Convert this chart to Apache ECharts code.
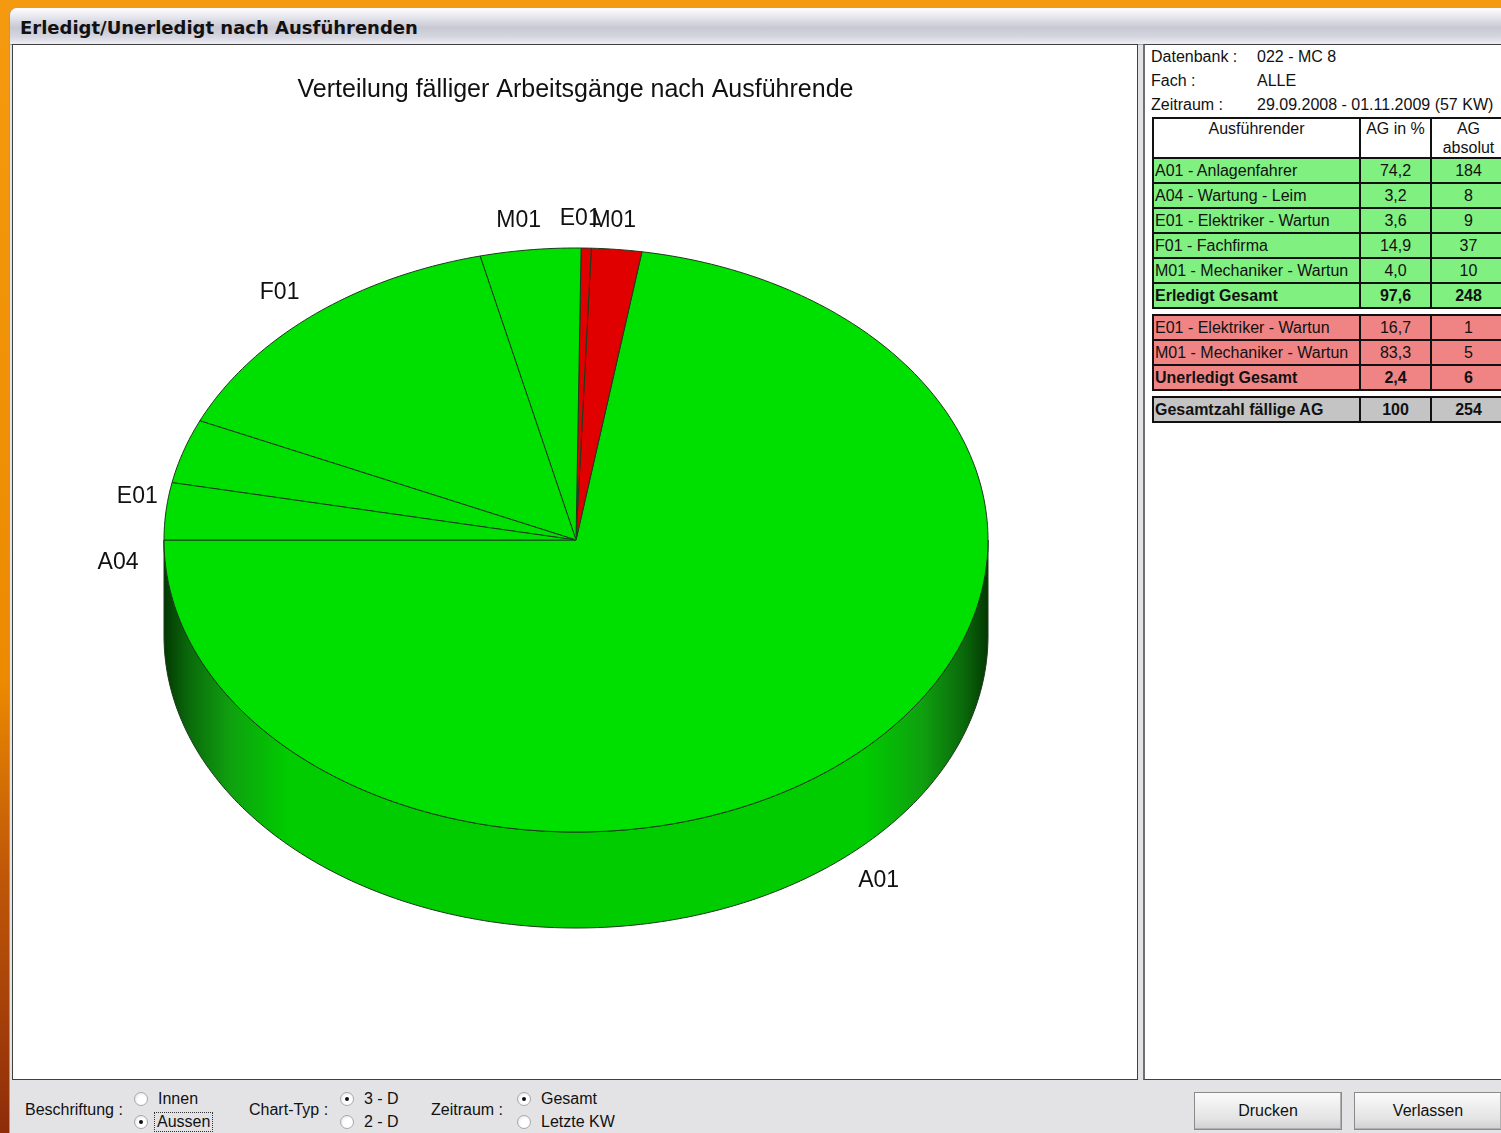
<!DOCTYPE html>
<html>
<head>
<meta charset="utf-8">
<script src="https://cdn.jsdelivr.net/npm/echarts@6/dist/echarts.min.js"></script>
<style>
  body { margin: 0; width: 1501px; height: 1133px; overflow: hidden; position: relative;
    background: linear-gradient(180deg, #f59a10 0%, #ec8a00 60%, #c25a08 76%, #8e2c0a 100%);
    font-family: 'Liberation Sans', Arial, sans-serif; }
  #win { position: absolute; left: 9px; top: 8px; width: 1500px; height: 1130px; background: #e3e3e6;
    border-top-left-radius: 8px; overflow: hidden; border-left: 1px solid #9a9aa8; }
  #titlebar { position: absolute; left: 0; top: 0; width: 100%; height: 36px;
    background: linear-gradient(180deg, #ffffff 0%, #e6e6ee 25%, #c8c8d4 55%, #d6d6e0 80%, #eeeef4 100%);
    border-bottom: 1px solid #a0a0ac; }
  #titlebar span { position: absolute; left: 10px; top: 9px; font: bold 18px 'DejaVu Sans', sans-serif; color: #111; }
  #chartFrame { position: absolute; left: 12px; top: 44px; width: 1124px; height: 1034px;
    border: 1px solid #404040; background: #fff; }
  #chart { position: absolute; left: 14px; top: 46px; width: 1123px; height: 1033px; }
  #side { position: absolute; left: 1143px; top: 44px; width: 400px; height: 1034px; background: #fff;
    border: 1px solid #404040; border-left: 2px solid #707070; overflow: hidden; }
  .info { position: absolute; font-size: 16px; color: #111; white-space: nowrap; }
  table { position: absolute; left: 7px; border-collapse: collapse; table-layout: fixed; font-size: 16px; color: #111; }
  td { border: 2px solid #111; padding: 0 0 0 1px; height: 23px; line-height: 23px; white-space: nowrap; overflow: hidden; }
  td.n { text-align: center; padding: 0; }
  td.h { text-align: center; vertical-align: top; background: #fff; line-height: 19px; padding: 0; }
  tr.g td { background: #80f080; }
  tr.r td { background: #f08484; }
  tr.t td { background: #c4c4c4; }
  tr.b td { font-weight: bold; }
  .lbl { position: absolute; font-size: 16px; color: #111; }
  .rad { position: absolute; width: 12px; height: 12px; border-radius: 50%; border: 1px solid #a8a8a8;
    background: radial-gradient(circle at 60% 60%, #ffffff 40%, #dcdcdc 100%); }
  .rad.on::after { content: ''; position: absolute; left: 4px; top: 4px; width: 4px; height: 4px; border-radius: 50%; background: #111; }
  .btn { position: absolute; top: 1092px; width: 146px; height: 36px; border: 1px solid #8a8a8a;
    background: linear-gradient(180deg, #fafafa, #e4e4e4 70%, #d0d0d0); font-size: 16px; text-align: center; line-height: 36px; color: #111;
    box-shadow: inset -1px -1px 0 #b0b0b0; }
</style>
</head>
<body>
<div id="win"><div id="titlebar"><span>Erledigt/Unerledigt nach Ausführenden</span></div></div>
<div id="chartFrame"></div>
<div id="chart"></div>
<div id="side"></div>

<div class="lbl" style="left:25px;top:1101px">Beschriftung :</div>
<div class="rad" style="left:134px;top:1092px"></div><div class="lbl" style="left:158px;top:1090px">Innen</div>
<div class="rad on" style="left:134px;top:1115px"></div><div class="lbl" style="left:155px;top:1113px;outline:1px dotted #333;padding:0 2px">Aussen</div>
<div class="lbl" style="left:249px;top:1101px">Chart-Typ :</div>
<div class="rad on" style="left:340px;top:1092px"></div><div class="lbl" style="left:364px;top:1090px">3 - D</div>
<div class="rad" style="left:340px;top:1115px"></div><div class="lbl" style="left:364px;top:1113px">2 - D</div>
<div class="lbl" style="left:431px;top:1101px">Zeitraum :</div>
<div class="rad on" style="left:517px;top:1092px"></div><div class="lbl" style="left:541px;top:1090px">Gesamt</div>
<div class="rad" style="left:517px;top:1115px"></div><div class="lbl" style="left:541px;top:1113px">Letzte KW</div>
<div class="btn" style="left:1194px">Drucken</div>
<div class="btn" style="left:1354px">Verlassen</div>

<script>
// pie slices, in drawing order (counter-clockwise from 9 o'clock)
const pieLabels = ['A01', 'M01', 'E01', 'M01', 'F01', 'E01', 'A04'];
const pieValues = [184, 5, 1, 10, 37, 9, 8];
const pieOpen = [false, true, true, false, false, false, false];

// table on the right
const infoKeys = ['Datenbank :', 'Fach :', 'Zeitraum :'];
const infoVals = ['022 - MC  8', 'ALLE', '29.09.2008 - 01.11.2009 (57 KW)'];
const doneNames = ['A01 - Anlagenfahrer', 'A04 - Wartung - Leim', 'E01 - Elektriker - Wartun', 'F01 - Fachfirma', 'M01 - Mechaniker - Wartun'];
const donePct = ['74,2', '3,2', '3,6', '14,9', '4,0'];
const doneAbs = [184, 8, 9, 37, 10];
const openNames = ['E01 - Elektriker - Wartun', 'M01 - Mechaniker - Wartun'];
const openPct = ['16,7', '83,3'];
const openAbs = [1, 5];
const totalNames = ['Erledigt Gesamt', 'Unerledigt Gesamt', 'Gesamtzahl fällige AG'];
const totalPct = ['97,6', '2,4', '100'];
const totalAbs = [248, 6, 254];

// ---- side panel ----
const side = document.getElementById('side');
let html = '';
infoKeys.forEach((k, i) => {
  const y = 3 + i * 24;
  html += `<div class="info" style="left:6px;top:${y}px">${k}</div>`;
  html += `<div class="info" style="left:112px;top:${y}px">${infoVals[i]}</div>`;
});
const cols = '<colgroup><col style="width:207px"><col style="width:71px"><col style="width:75px"></colgroup>';
const rowHtml = (cls, a, b, c) => `<tr class="${cls}"><td>${a}</td><td class="n">${b}</td><td class="n">${c}</td></tr>`;
let t1 = `<table style="top:72px">${cols}<tr><td class="h" style="height:38px">Ausführender</td><td class="h">AG in %</td><td class="h">AG<br>absolut</td></tr>`;
doneNames.forEach((n, i) => { t1 += rowHtml('g', n, donePct[i], doneAbs[i]); });
t1 += rowHtml('g b', totalNames[0], totalPct[0], totalAbs[0]) + '</table>';
let t2 = `<table style="top:269px">${cols}`;
openNames.forEach((n, i) => { t2 += rowHtml('r', n, openPct[i], openAbs[i]); });
t2 += rowHtml('r b', totalNames[1], totalPct[1], totalAbs[1]) + '</table>';
const t3 = `<table style="top:351px">${cols}` + rowHtml('t b', totalNames[2], totalPct[2], totalAbs[2]) + '</table>';
side.innerHTML = html + t1 + t2 + t3;

// ---- 3D pie ----
const total = pieValues.reduce((a, b) => a + b, 0);
const starts = [];
let acc = 0;
pieValues.forEach(v => { starts.push(acc); acc += v; });

const START = 180;
const topColor = { done: '#00e000', open: '#e00000' };
const sideStops = {
  done: ['#033803', '#0a6a0a', '#0fa00f', '#00cc00'],
  open: ['#380303', '#6a0a0a', '#a00f0f', '#cc0000']
};

function renderSlice(params, api) {
  const i = params.dataIndex;
  const cx = 562, cy = 494, rx = 412, ry = 292, depth = 96;
  const a0 = START + starts[i] / total * 360;
  const a1 = START + (starts[i] + pieValues[i]) / total * 360;
  const pt = (deg, r, dy) => {
    const t = deg * Math.PI / 180;
    return [cx + rx * r * Math.cos(t), cy - ry * r * Math.sin(t) + (dy || 0)];
  };
  const arc = (s, e, dy) => {
    const n = Math.max(2, Math.ceil(Math.abs(e - s)));
    const out = [];
    for (let k = 0; k <= n; k++) out.push(pt(s + (e - s) * k / n, 1, dy));
    return out;
  };
  const key = pieOpen[i] ? 'open' : 'done';
  const children = [];

  // front wall: part of the slice between 180 and 360 degrees
  const s = Math.max(a0, 180), e = Math.min(a1, 360);
  if (e > s) {
    const st = sideStops[key];
    const pts = arc(s, e, 0).concat(arc(e, s, depth));
    children.push({
      type: 'polygon',
      shape: { points: pts },
      style: {
        fill: {
          type: 'linear', x: cx - rx, y: 0, x2: cx + rx, y2: 0, global: true,
          colorStops: [
            { offset: 0, color: st[0] }, { offset: 0.03, color: st[1] },
            { offset: 0.08, color: st[2] }, { offset: 0.15, color: st[3] },
            { offset: 0.85, color: st[3] }, { offset: 0.92, color: st[2] },
            { offset: 0.97, color: st[1] }, { offset: 1, color: st[0] }
          ]
        },
        stroke: '#1c3a1c', lineWidth: 1
      }
    });
  }

  // top face
  children.push({
    type: 'polygon',
    shape: { points: [[cx, cy]].concat(arc(a0, a1, 0)) },
    style: { fill: topColor[key], stroke: '#1c3a1c', lineWidth: 1 }
  });

  // label outside the rim
  const mid = (a0 + a1) / 2;
  const sn = Math.sin(mid * Math.PI / 180);
  const lp = pt(mid, 1.1, sn < 0 ? depth : (sn < 0.5 ? depth * 0.57 : 0));
  children.push({
    type: 'text',
    x: lp[0] - 7 + (sn < 0 ? 16 : 0), y: lp[1],
    style: {
      text: pieLabels[i], fill: '#111', font: '23px "Liberation Sans", Arial, sans-serif',
      align: 'center', verticalAlign: 'middle'
    }
  });
  return { type: 'group', children };
}

const chart = echarts.init(document.getElementById('chart'));
chart.setOption({
  animation: false,
  backgroundColor: '#fff',
  title: {
    text: 'Verteilung fälliger Arbeitsgänge nach Ausführende',
    left: 'center', top: 27,
    textStyle: { fontSize: 25, fontWeight: 'normal', color: '#111', fontFamily: 'Liberation Sans' }
  },
  series: [{
    type: 'custom',
    coordinateSystem: 'none',
    renderItem: renderSlice,
    data: pieValues.map((v, i) => ({ name: pieLabels[i], value: v }))
  }]
});
</script>
</body>
</html>
